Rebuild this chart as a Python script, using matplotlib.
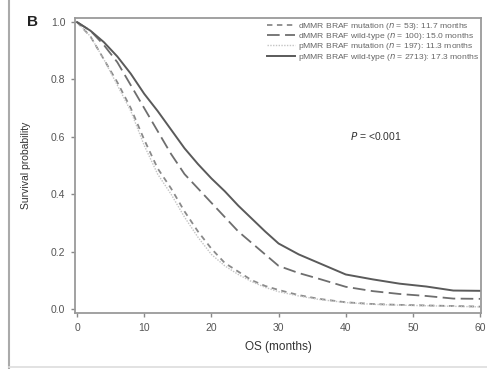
import matplotlib
matplotlib.use("Agg")
import matplotlib.pyplot as plt
from matplotlib.lines import Line2D

plt.rcParams['font.family'] = ['Liberation Sans', 'DejaVu Sans']

months = [0, 2, 4, 6, 8, 10, 12, 14, 16, 18, 20, 22, 24, 26, 28, 30, 33, 36, 40, 44, 48, 52, 56, 60]
dmmr_mut = [1.0, 0.95, 0.87, 0.79, 0.70, 0.59, 0.49, 0.42, 0.34, 0.27, 0.21, 0.16, 0.13, 0.10, 0.08,
            0.066, 0.048, 0.035, 0.023, 0.017, 0.014, 0.012, 0.010, 0.008]
dmmr_wt = [1.0, 0.97, 0.92, 0.86, 0.78, 0.70, 0.62, 0.54, 0.47, 0.42, 0.37, 0.32, 0.27, 0.23, 0.19,
           0.15, 0.125, 0.105, 0.077, 0.062, 0.052, 0.045, 0.036, 0.035]
pmmr_mut = [1.0, 0.95, 0.87, 0.78, 0.69, 0.57, 0.47, 0.40, 0.32, 0.25, 0.19, 0.15, 0.12, 0.095, 0.075,
            0.060, 0.045, 0.033, 0.022, 0.016, 0.013, 0.011, 0.009, 0.007]
pmmr_wt = [1.0, 0.97, 0.93, 0.88, 0.82, 0.75, 0.69, 0.625, 0.56, 0.505, 0.455, 0.41, 0.36, 0.315, 0.27,
           0.228, 0.19, 0.16, 0.12, 0.103, 0.088, 0.078, 0.064, 0.063]

labels = [
    r"dMMR BRAF mutation ($\it{n}$ = 53): 11.7 months",
    r"dMMR BRAF wild-type ($\it{n}$ = 100): 15.0 months",
    r"pMMR BRAF mutation ($\it{n}$ = 197): 11.3 months",
    r"pMMR BRAF wild-type ($\it{n}$ = 2713): 17.3 months",
]
xticks = [0, 10, 20, 30, 40, 50, 60]
yticks = [0.0, 0.2, 0.4, 0.6, 0.8, 1.0]

fig = plt.figure(figsize=(4.87, 3.69), dpi=100)
ax = fig.add_axes([0.154, 0.152, 0.834, 0.799])

ax.plot(months, dmmr_mut, color='#8a8a8a', lw=1.3, ls=(0, (3, 2.5)), label=labels[0])
ax.plot(months, dmmr_wt, color='#6e6e6e', lw=1.3, ls=(0, (7, 3)), label=labels[1])
ax.plot(months, pmmr_mut, color='#c4c4c4', lw=1.0, ls=(0, (1, 1)), label=labels[2])
ax.plot(months, pmmr_wt, color='#5a5a5a', lw=1.4, ls='-', label=labels[3])

ax.set_xlim(-0.3, 60.15)
ax.set_ylim(-0.014, 1.014)
ax.set_xticks(xticks)
ax.set_yticks(yticks)
ax.set_xticklabels([str(v) for v in xticks])
ax.set_yticklabels([f"{v:.1f}" for v in yticks])
ax.tick_params(direction='out', length=3, width=1, colors='#888888', labelcolor='#555555', labelsize=7.5, pad=4)
for s in ax.spines.values():
    s.set_color('#9a9a9a')
    s.set_linewidth(1.3)

ax.set_xlabel("OS (months)", fontsize=8.5, color='#333333', labelpad=6)
ax.set_ylabel("Survival probability", fontsize=7.5, color='#333333', labelpad=14)

leg = ax.legend(loc='upper right', frameon=False, fontsize=6.1, handlelength=3.3,
                handletextpad=0.35, labelspacing=-0.08, borderaxespad=0.05, borderpad=0.25,
                labelcolor='#666666')

ax.text(0.74, 0.60, r"$\it{P}$ = <0.001", transform=ax.transAxes, fontsize=7.5, color='#333333',
        ha='center', va='center')

fig.text(32 / 487, 1 - 22 / 369, "B", fontsize=11, fontweight='bold', ha='center', va='center', color='#222222')

fig.add_artist(Line2D([9 / 487, 9 / 487], [0, 1], color='#aaaaaa', lw=1.5, transform=fig.transFigure))
fig.add_artist(Line2D([9 / 487, 1], [1 - 367 / 369, 1 - 367 / 369], color='#dddddd', lw=1.2,
                      transform=fig.transFigure))

fig.savefig("out.png", dpi=100)
